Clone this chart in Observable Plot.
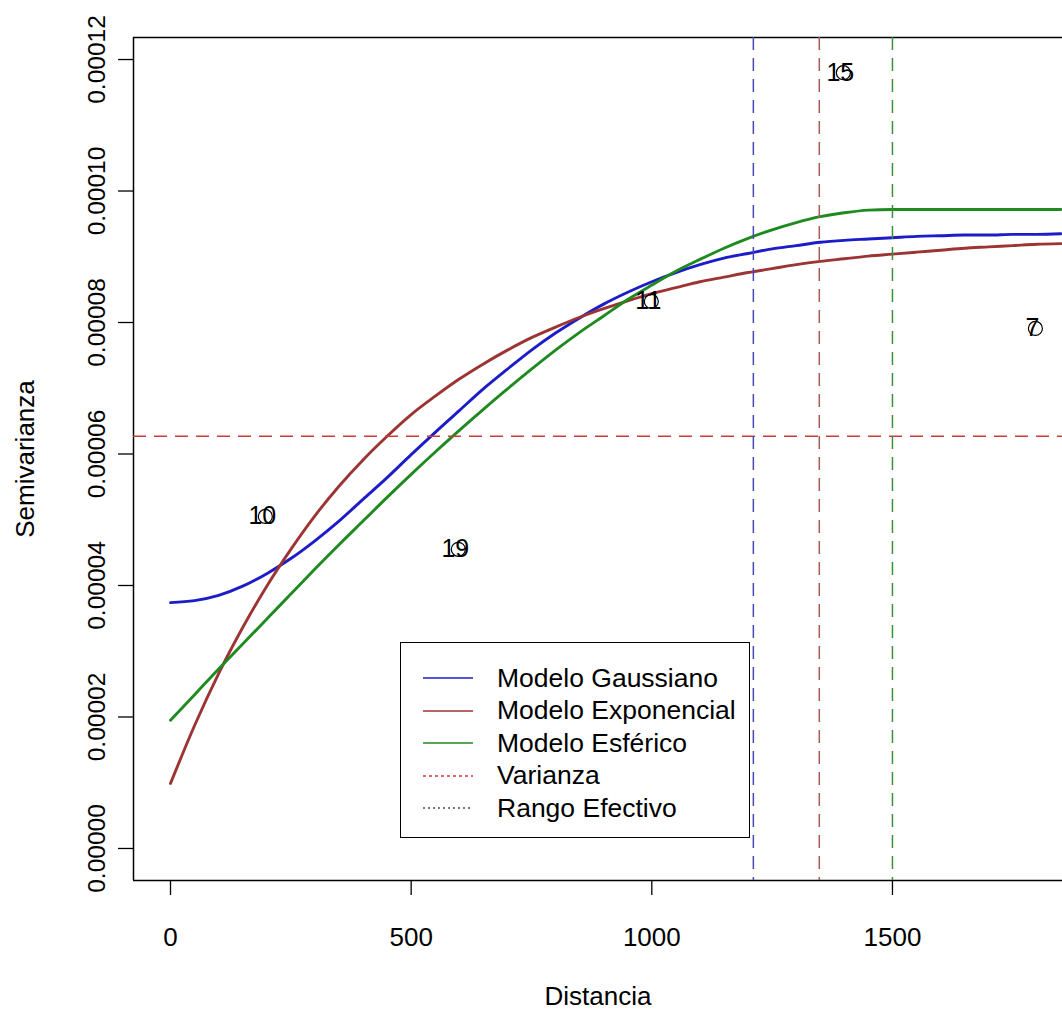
<!DOCTYPE html>
<html>
<head>
<meta charset="utf-8">
<script src="https://cdn.jsdelivr.net/npm/d3@7"></script>
<script src="https://cdn.jsdelivr.net/npm/@observablehq/plot@0.6"></script>
<style>
  html, body { margin: 0; padding: 0; background: #fff; overflow: hidden; }
  #chart { position: relative; width: 1062px; height: 1017px; font-family: "Liberation Sans", Arial, sans-serif; }
  .legend {
    position: absolute; left: 400px; top: 642px; width: 350px; height: 196px;
    box-sizing: border-box; border: 1.5px solid #000; background: #fff;
    padding-top: 19px; font-size: 26.5px; color: #000;
  }
  .legend .row { display: flex; align-items: center; height: 32.5px; }
  .legend svg { margin-left: 22px; margin-right: 24px; flex: none; }
</style>
</head>
<body>
<div id="chart"></div>
<script>
// Distance lags (m) at which each fitted model is evaluated
const distancia = [0, 50, 100, 150, 200, 250, 300, 350, 400, 450, 500, 550, 600, 650, 700, 750, 800, 850, 900, 950,
  1000, 1050, 1100, 1150, 1200, 1250, 1300, 1350, 1400, 1450, 1500, 1550, 1600, 1650, 1700, 1750, 1800, 1850];

// Semivariance of each fitted model
const gaussiano = [3.74e-5, 3.77e-5, 3.85e-5, 3.99e-5, 4.18e-5, 4.41e-5, 4.68e-5, 4.98e-5, 5.31e-5, 5.64e-5,
  5.99e-5, 6.33e-5, 6.66e-5, 6.99e-5, 7.29e-5, 7.58e-5, 7.84e-5, 8.07e-5, 8.28e-5, 8.46e-5,
  8.62e-5, 8.76e-5, 8.88e-5, 8.98e-5, 9.05e-5, 9.12e-5, 9.17e-5, 9.22e-5, 9.25e-5, 9.27e-5,
  9.29e-5, 9.31e-5, 9.32e-5, 9.33e-5, 9.33e-5, 9.34e-5, 9.34e-5, 9.35e-5];
const exponencial = [0.99e-5, 1.87e-5, 2.66e-5, 3.36e-5, 3.99e-5, 4.55e-5, 5.06e-5, 5.51e-5, 5.91e-5, 6.27e-5,
  6.60e-5, 6.88e-5, 7.14e-5, 7.37e-5, 7.58e-5, 7.77e-5, 7.93e-5, 8.08e-5, 8.21e-5, 8.33e-5,
  8.44e-5, 8.53e-5, 8.62e-5, 8.69e-5, 8.76e-5, 8.82e-5, 8.88e-5, 8.93e-5, 8.97e-5, 9.01e-5,
  9.04e-5, 9.07e-5, 9.10e-5, 9.13e-5, 9.15e-5, 9.17e-5, 9.19e-5, 9.20e-5];
const esferico = [1.95e-5, 2.34e-5, 2.73e-5, 3.11e-5, 3.49e-5, 3.87e-5, 4.25e-5, 4.62e-5, 4.98e-5, 5.34e-5,
  5.69e-5, 6.03e-5, 6.36e-5, 6.68e-5, 6.99e-5, 7.29e-5, 7.58e-5, 7.85e-5, 8.10e-5, 8.35e-5,
  8.57e-5, 8.78e-5, 8.96e-5, 9.13e-5, 9.28e-5, 9.41e-5, 9.52e-5, 9.61e-5, 9.67e-5, 9.71e-5,
  9.72e-5, 9.72e-5, 9.72e-5, 9.72e-5, 9.72e-5, 9.72e-5, 9.72e-5, 9.72e-5];

// Sample variance and effective range of each model
const varianza = 6.27e-5;
const rangoModelo = ["Gaussiano", "Exponencial", "Esférico"];
const rangoEfectivo = [1211, 1348, 1500];

// Empirical semivariogram points and their pair counts
const puntoDist = [197, 598, 999, 1398, 1797];
const puntoSemiv = [5.05e-5, 4.55e-5, 8.32e-5, 1.180e-4, 7.91e-5];
const puntoPares = ["10", "19", "11", "15", "7"];

// Axis ticks
const xTicks = [0, 500, 1000, 1500];
const yTicks = [0, 0.00002, 0.00004, 0.00006, 0.00008, 0.00010, 0.00012];

const colores = {Gaussiano: "#1c1cc8", Exponencial: "#9c3434", "Esférico": "#1f8a1f"};
const coloresRango = {Gaussiano: "#4848b8", Exponencial: "#a85a56", "Esférico": "#3a8f3a"};

const xDomain = [-76.9, 1853.3];
const yDomain = [-4.87e-6, 1.2335e-4];

const curvas = distancia.flatMap((d, i) => [
  {d, v: gaussiano[i], modelo: "Gaussiano"},
  {d, v: exponencial[i], modelo: "Exponencial"},
  {d, v: esferico[i], modelo: "Esférico"}
]);
const rangos = rangoModelo.map((m, i) => ({modelo: m, d: rangoEfectivo[i]}));
const puntos = puntoDist.map((d, i) => ({d, v: puntoSemiv[i], n: puntoPares[i]}));

const chart = Plot.plot({
  width: 1062,
  height: 1017,
  marginLeft: 133,
  marginRight: 0,
  marginTop: 37,
  marginBottom: 137,
  style: {fontFamily: "'Liberation Sans', Arial, sans-serif", fontSize: "26px", background: "#fff", color: "#000"},
  x: {domain: xDomain},
  y: {domain: yDomain},
  marks: [
    // plot box (right side falls outside the view)
    Plot.ruleX([xDomain[0]], {stroke: "#000", strokeWidth: 1.5}),
    Plot.ruleY([yDomain[0], yDomain[1]], {stroke: "#000", strokeWidth: 1.5}),

    Plot.axisX({ticks: xTicks, tickSize: 15, tickPadding: 32, tickFormat: d3.format("d"), label: null, fontSize: 26, strokeWidth: 1.3}),
    Plot.axisY({ticks: yTicks, tickSize: 15, tickPadding: 14, tickRotate: -90, tickFormat: d3.format(".5f"), label: null, fontSize: 24.5, strokeWidth: 1.3}),

    Plot.text(["Distancia"], {frameAnchor: "bottom", dy: 124, text: d => d, fontSize: 26}),
    Plot.text(["Semivarianza"], {frameAnchor: "left", dx: -108, rotate: -90, textAnchor: "middle", text: d => d, fontSize: 26}),

    // fitted models
    Plot.line(curvas, {x: "d", y: "v", z: "modelo", stroke: d => colores[d.modelo], strokeWidth: 2.9, curve: "monotone-x"}),

    // variance and effective ranges
    Plot.ruleY([varianza], {stroke: "#d03a3a", strokeWidth: 1.5, strokeDasharray: "13,8"}),
    Plot.ruleX(rangos, {x: "d", stroke: d => coloresRango[d.modelo], strokeWidth: 1.5, strokeDasharray: "13,8"}),

    // empirical points with number of pairs
    Plot.dot(puntos, {x: "d", y: "v", r: 7, stroke: "#000", strokeWidth: 1.2, fill: "none"}),
    Plot.text(puntos, {x: "d", y: "v", text: "n", dx: -3, fontSize: 25, fill: "#000"})
  ]
});

const root = document.getElementById("chart");
root.appendChild(chart);

// legend box
const legendItems = [
  {label: "Modelo Gaussiano", color: colores.Gaussiano, dash: null, width: 1.6},
  {label: "Modelo Exponencial", color: colores.Exponencial, dash: null, width: 1.6},
  {label: "Modelo Esférico", color: colores["Esférico"], dash: null, width: 1.6},
  {label: "Varianza", color: "#d03a3a", dash: "3,3", width: 1.5},
  {label: "Rango Efectivo", color: "#5a4c40", dash: "2,3", width: 1.3}
];
const legend = d3.select(root).append("div").attr("class", "legend");
for (const item of legendItems) {
  const row = legend.append("div").attr("class", "row");
  const svg = row.append("svg").attr("width", 50).attr("height", 10);
  svg.append("line")
    .attr("x1", 0).attr("x2", 50).attr("y1", 5).attr("y2", 5)
    .attr("stroke", item.color).attr("stroke-width", item.width)
    .attr("stroke-dasharray", item.dash);
  row.append("span").text(item.label);
}
</script>
</body>
</html>
